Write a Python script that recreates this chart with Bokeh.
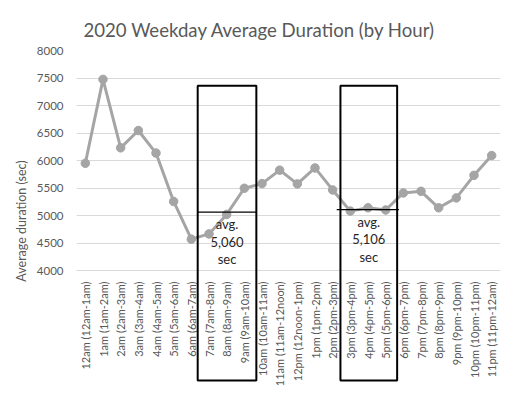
import numpy as np
from bokeh.plotting import figure
from bokeh.models import Range1d, FixedTicker, ColumnDataSource
from bokeh.core.properties import value
from bokeh.embed import file_html
from bokeh.resources import INLINE

# ---- data ----
hours = [
    "12am (12am-1am)", "1am (1am-2am)", "2am (2am-3am)", "3am (3am-4am)",
    "4am (4am-5am)", "5am (5am-6am)", "6am (6am-7am)", "7am (7am-8am)",
    "8am (8am-9am)", "9am (9am-10am)", "10am (10am-11am)", "11am (11am-12noon)",
    "12pm (12noon-1pm)", "1pm (1pm-2pm)", "2pm (2pm-3pm)", "3pm (3pm-4pm)",
    "4pm (4pm-5pm)", "5pm (5pm-6pm)", "6pm (6pm-7pm)", "7pm (7pm-8pm)",
    "8pm (8pm-9pm)", "9pm (9pm-10pm)", "10pm (10pm-11pm)", "11pm (11pm-12am)",
]
durations = [5950, 7475, 6230, 6545, 6135, 5255, 4570, 4665, 5020, 5495, 5580, 5825,
             5575, 5865, 5465, 5080, 5140, 5100, 5410, 5440, 5140, 5320, 5730, 6090]
y_ticks = [4000, 4500, 5000, 5500, 6000, 6500, 7000, 7500, 8000]
peak_first = ["7am (7am-8am)", "3pm (3pm-4pm)"]
peak_last = ["9am (9am-10am)", "5pm (5pm-6pm)"]
peak_avg = [5060, 5106]
box_top = 7360

# ---- styling / layout ----
FONT = "Lato"
GREY_TXT = "#595959"
W, H = 512, 399
frame_top_px, frame_bottom_px = 50, 391
px_per_unit = 220 / 4000
y_start = 8000 - (frame_bottom_px - frame_top_px) / px_per_unit
box_bottom = 2000
pad_l = [0.14, 0.06]
pad_r = [0.18, 0.15]
seg_l = [0.0, 0.21]
seg_r = [0.0, 0.1]

x = np.arange(len(hours)) + 0.5

p = figure(width=W, height=H, output_backend="svg", toolbar_location=None,
           x_range=Range1d(0, len(hours)), y_range=Range1d(y_start, 8000),
           min_border_left=76, min_border_right=12, min_border_top=frame_top_px,
           min_border_bottom=H - frame_bottom_px)
p.outline_line_color = None
p.background_fill_color = "white"
p.border_fill_color = "white"

p.title.text = "2020 Weekday Average Duration (by Hour)"
p.title.align = "left"
p.title.offset = 7
p.title.text_font = FONT
p.title.text_font_size = "18.6px"
p.title.text_font_style = "normal"
p.title.text_color = GREY_TXT
p.title.standoff = 20

p.xaxis.visible = False
p.xgrid.visible = False

yax = p.yaxis[0]
yax.ticker = FixedTicker(ticks=y_ticks)
yax.axis_line_color = None
yax.major_tick_line_color = None
yax.minor_tick_line_color = None
yax.major_tick_out = 0
yax.major_label_standoff = 13
yax.major_label_text_font = FONT
yax.major_label_text_font_size = "11.5px"
yax.major_label_text_color = GREY_TXT
yax.axis_label = "Average duration (sec)"
yax.axis_label_text_font = FONT
yax.axis_label_text_font_size = "12.5px"
yax.axis_label_text_font_style = "normal"
yax.axis_label_text_color = GREY_TXT
yax.axis_label_standoff = 5

p.ygrid.ticker = FixedTicker(ticks=y_ticks)
p.ygrid.grid_line_color = "#d9d9d9"
p.ygrid.grid_line_width = 1

# series
src = ColumnDataSource(dict(x=x, y=durations, label=hours, base=[y_ticks[0]] * len(hours)))
p.line("x", "y", source=src, line_color="#a5a5a5", line_width=3)
p.scatter("x", "y", source=src, size=8.5, fill_color="#a5a5a5", line_color="#a5a5a5")

# category labels (rotated), hung below the 4000 baseline
p.text("x", "base", text="label", source=src, angle=np.pi / 2,
       text_align="right", text_baseline="middle", y_offset=11,
       text_font=value(FONT), text_font_size="11px", text_color=GREY_TXT)

# peak boxes
lefts, rights, segx0, segx1, cx, txt = [], [], [], [], [], []
for i, (a, b, v) in enumerate(zip(peak_first, peak_last, peak_avg)):
    l = hours.index(a) - pad_l[i]
    r = hours.index(b) + 1 + pad_r[i]
    lefts.append(l)
    rights.append(r)
    segx0.append(l - seg_l[i])
    segx1.append(r + seg_r[i])
    cx.append((l + r) / 2)
    txt.append(f"avg.\n{v:,}\nsec")

bsrc = ColumnDataSource(dict(left=lefts, right=rights, top=[box_top] * 2,
                             bottom=[box_bottom] * 2, x0=segx0, x1=segx1,
                             avg=peak_avg, cx=cx, txt=txt))
p.quad(left="left", right="right", top="top", bottom="bottom", source=bsrc,
       fill_color=None, line_color="black", line_width=2)
p.segment(x0="x0", y0="avg", x1="x1", y1="avg", source=bsrc,
          line_color="black", line_width=1.3)
p.text("cx", "avg", text="txt", source=bsrc, text_align="center",
       text_baseline="top", y_offset=4, text_line_height=1.1,
       text_font=value(FONT), text_font_size="13px", text_color="#262626")

open("out.html", "w").write(file_html(p, INLINE))
